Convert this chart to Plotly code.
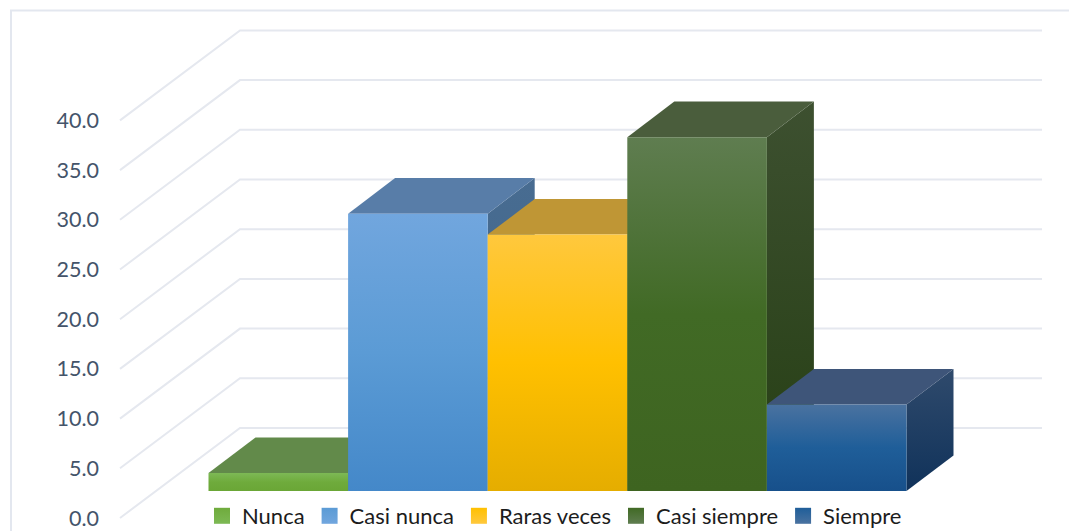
import plotly.graph_objects as go

categories = ["Nunca", "Casi nunca", "Raras veces", "Casi siempre", "Siempre"]
values = [1.8, 27.9, 25.8, 35.6, 8.7]
ticks = [0, 5, 10, 15, 20, 25, 30, 35, 40]
tick_labels = ["0.0", "5.0", "10.0", "15.0", "20.0", "25.0", "30.0", "35.0", "40.0"]

# colours per series: front gradient (bottom..top), top face, side gradient (bottom..top)
front = [
    ["#6aa636", "#6fab3c", "#7db955"],
    ["#4488c9", "#5b9bd5", "#71a6de"],
    ["#e5ad00", "#ffc000", "#ffc83d"],
    ["#3e6420", "#416a25", "#5f7d50"],
    ["#17508b", "#1f5e99", "#4a72a0"],
]
top_c = ["#628a4a", "#587da8", "#bf9635", "#4a5d3c", "#3e5579"]
side = [
    ["#3d6b20", "#4d7a2c"],
    ["#3c6388", "#486c91"],
    ["#9a7400", "#b08a1e"],
    ["#263f14", "#3d5030"],
    ["#10325a", "#2f4a6c"],
]

W, H = 1069, 531
PX_PER_BAR = 139.6
PX_PER_VAL = 9.94
X0_PX, Y0_PX = 208.5, 518.0
x_range = [(0 - X0_PX) / PX_PER_BAR, (W - X0_PX) / PX_PER_BAR]
y_range = [(Y0_PX - H) / PX_PER_VAL, Y0_PX / PX_PER_VAL]

BASE = 27.0 / PX_PER_VAL          # floor level of the bars front plane
DX, DY = 47 / PX_PER_BAR, 35.6 / PX_PER_VAL   # bar depth
WALL_L = (120 - X0_PX) / PX_PER_BAR
WALL_B = (240 - X0_PX) / PX_PER_BAR
WALL_R = (1042 - X0_PX) / PX_PER_BAR
WALL_D = 90 / PX_PER_VAL
GRID = "#e5e8ef"

fig = go.Figure()

for t in ticks:
    fig.add_trace(go.Scatter(
        x=[WALL_L, WALL_B, WALL_R], y=[t, t + WALL_D, t + WALL_D], mode="lines",
        line=dict(color=GRID, width=2), showlegend=False, hoverinfo="skip"))


def poly(xs, ys, colors=None, solid=None):
    kw = dict(x=xs + xs[:1], y=ys + ys[:1], mode="lines", fill="toself",
              line=dict(width=0), showlegend=False, hoverinfo="skip")
    if solid:
        kw["fillcolor"] = solid
    else:
        n = len(colors) - 1
        kw["fillgradient"] = dict(type="vertical",
                                  colorscale=[[i / n, c] for i, c in enumerate(colors)])
    fig.add_trace(go.Scatter(**kw))


for i, v in enumerate(values):
    l, r, b, t = i, i + 1, BASE, BASE + v
    poly([r, r + DX, r + DX, r], [b, b + DY, t + DY, t], colors=side[i])
    poly([l, r, r + DX, l + DX], [t, t, t + DY, t + DY], solid=top_c[i])
    poly([l, r, r, l], [b, b, t, t], colors=front[i])

for name, c in zip(categories, front):
    fig.add_trace(go.Scatter(
        x=[None], y=[None], mode="markers", name=name,
        marker=dict(symbol="square", size=16, color=c[1],
                    gradient=dict(type="vertical", color=c[2]))))

fig.update_layout(
    width=W, height=H, margin=dict(l=0, r=0, t=0, b=0, autoexpand=False),
    paper_bgcolor="white", plot_bgcolor="white", hovermode=False,
    font=dict(family="Lato"),
    xaxis=dict(range=x_range, visible=False, domain=[0, 1], fixedrange=True),
    yaxis=dict(range=y_range, tickvals=ticks, ticktext=tick_labels, showgrid=False,
               zeroline=False, showline=False, ticks="", anchor="free",
               position=99 / W, automargin=False, fixedrange=True,
               tickfont=dict(size=21.5, color="#44546a")),
    legend=dict(orientation="h", x=202 / W, xanchor="left", y=15 / H, yanchor="middle",
                font=dict(size=22, color="#1c1c1c"), bgcolor="rgba(0,0,0,0)"),
    shapes=[dict(type="path", xref="paper", yref="paper",
                 path=f"M 1.01 {1 - 10.5 / H} L {11 / W} {1 - 10.5 / H} L {11 / W} -0.01",
                 line=dict(color="#e3e7ef", width=2), layer="below")],
)

fig.write_html("out.html", config=dict(displayModeBar=False),
               post_script="document.body.style.margin='0';document.body.style.overflow='hidden';")
